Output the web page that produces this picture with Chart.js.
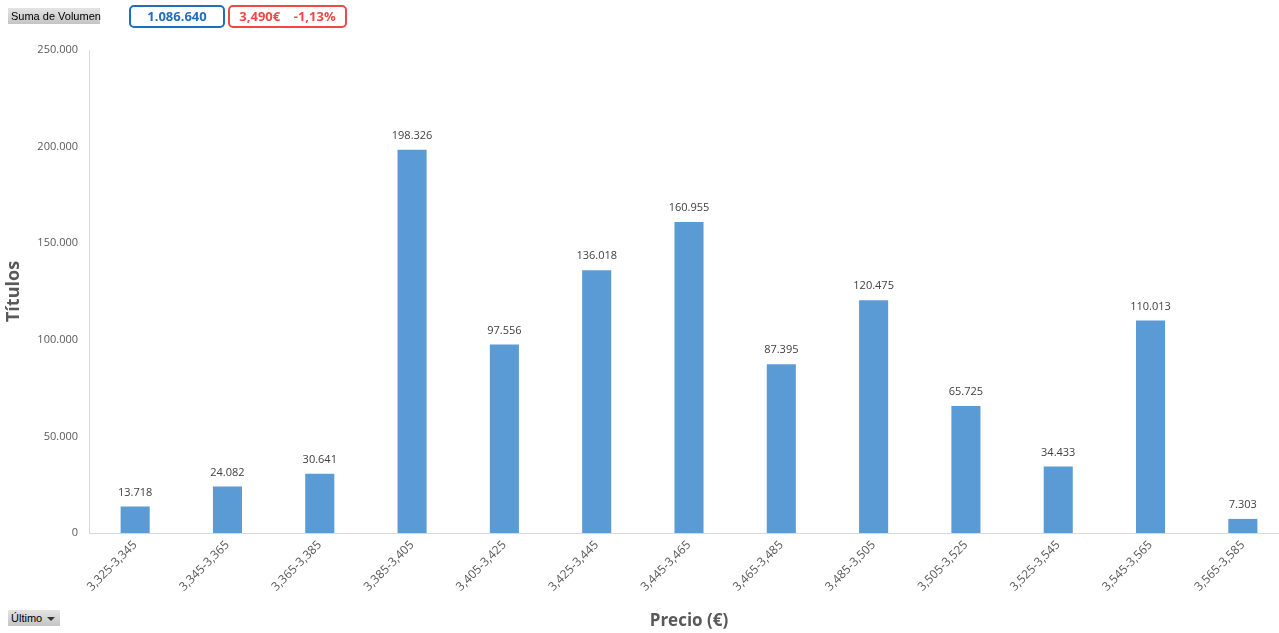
<!DOCTYPE html>
<html>
<head>
<meta charset="utf-8">
<script src="https://cdn.jsdelivr.net/npm/chart.js@4.4.1/dist/chart.umd.min.js"></script>
<style>
  html,body{margin:0;padding:0;background:#fff;overflow:hidden;}
  #wrap{position:relative;width:1279px;height:633px;overflow:hidden;}
  canvas{position:absolute;left:0;top:0;}
  .btn{position:absolute;background:linear-gradient(#e4e4e4,#c4c4c4);font-family:"Liberation Sans",Arial,sans-serif;font-size:11px;color:#000;line-height:16px;padding:0 3px;white-space:nowrap;box-sizing:border-box;height:16px;}
  .box{position:absolute;border:2px solid;border-radius:5px;font-family:"Open Sans","Liberation Sans",sans-serif;font-weight:bold;font-size:13px;text-align:center;line-height:19px;box-sizing:border-box;height:23px;white-space:nowrap;}
  .tri{position:absolute;width:0;height:0;border-left:4px solid transparent;border-right:4px solid transparent;border-top:4px solid #333;}
</style>
</head>
<body>
<div id="wrap">
  <canvas id="c" width="1289" height="633"></canvas>
  <div class="btn" style="left:8px;top:8px;width:92px;">Suma de Volumen</div>
  <div class="box" style="left:129px;top:5px;width:96px;border-color:#1f6fbf;color:#1f6fbf;">1.086.640</div>
  <div class="box" style="left:228px;top:5px;width:119px;border-color:#f04848;color:#f04848;">3,490€&nbsp;&nbsp;&nbsp;&nbsp;-1,13%</div>
  <div class="btn" style="left:8px;top:610px;width:52px;">Último</div>
  <div class="tri" style="left:47px;top:617px;"></div>
</div>
<script>
const categories = ["3,325-3,345","3,345-3,365","3,365-3,385","3,385-3,405","3,405-3,425","3,425-3,445","3,445-3,465","3,465-3,485","3,485-3,505","3,505-3,525","3,525-3,545","3,545-3,565","3,565-3,585"];
const volumes = [13718,24082,30641,198326,97556,136018,160955,87395,120475,65725,34433,110013,7303];
const yTicks = [0,50000,100000,150000,200000,250000];

const fmt = v => v.toLocaleString('de-DE');
const FONT = '"Open Sans","Liberation Sans",sans-serif';

const labelPlugin = {
  id:'barLabels',
  afterDatasetsDraw(chart){
    const ctx = chart.ctx;
    const meta = chart.getDatasetMeta(0);
    ctx.save();
    ctx.font = '11px ' + FONT;
    ctx.fillStyle = '#404040';
    ctx.textAlign = 'center';
    ctx.textBaseline = 'middle';
    meta.data.forEach((bar,i)=>{
      ctx.fillText(fmt(volumes[i]), bar.x, bar.y - 14);
    });
    ctx.restore();
  }
};

new Chart(document.getElementById('c'), {
  type:'bar',
  data:{
    labels:categories,
    datasets:[{data:volumes, backgroundColor:'#5b9bd5', barPercentage:0.315, categoryPercentage:1}]
  },
  options:{
    responsive:false,
    animation:false,
    plugins:{legend:{display:false}, tooltip:{enabled:false}},
    layout:{padding:{top:50,right:0,left:0,bottom:0}},
    scales:{
      x:{
        grid:{display:false, drawTicks:false},
        border:{color:'#d9d9d9'},
        ticks:{color:'#595959', font:{family:FONT, size:12}, maxRotation:45, minRotation:45, padding:5},
        title:{display:true, text:'Precio (€)', color:'#595959', font:{family:FONT, size:17, weight:'bold'}, padding:{top:0,bottom:2}},
        afterFit(s){ s.height = 100; }
      },
      y:{
        min:0, max:250000,
        afterBuildTicks(s){ s.ticks = yTicks.map(v=>({value:v})); },
        grid:{display:false, drawTicks:false},
        border:{color:'#d9d9d9'},
        ticks:{color:'#595959', font:{family:FONT, size:11}, padding:11, callback:v=>fmt(v)},
        title:{display:true, text:'Títulos', color:'#595959', font:{family:FONT, size:18, weight:'bold'}, padding:{top:3,bottom:0}},
        afterFit(s){ s.width = 89; }
      }
    }
  },
  plugins:[labelPlugin]
});
</script>
</body>
</html>
